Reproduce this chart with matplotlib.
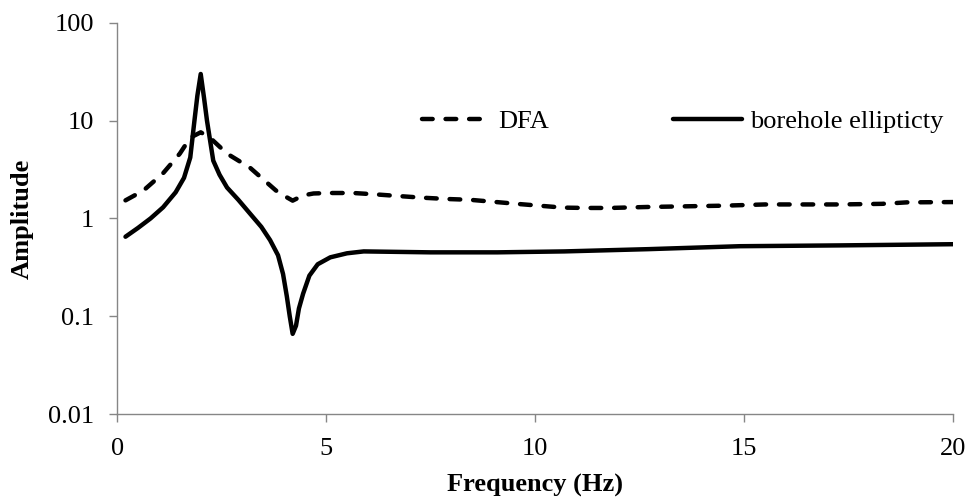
import numpy as np
import matplotlib
matplotlib.use('Agg')
import matplotlib.pyplot as plt
from matplotlib.ticker import FixedLocator, FixedFormatter, NullLocator

plt.rcParams['font.family'] = ['Liberation Serif', 'DejaVu Serif']

## values
freq_ell = [0.2, 0.5, 0.8, 1.1, 1.4, 1.6, 1.75, 1.85, 1.92, 2.0, 2.08, 2.15,
            2.3, 2.45, 2.63, 2.9, 3.18, 3.45, 3.66, 3.85, 3.97, 4.06, 4.13,
            4.2, 4.28, 4.35, 4.45, 4.6, 4.8, 5.1, 5.5, 5.9, 7.5, 9.1, 10.7,
            12.7, 14.9, 17.3, 20]
amp_ell = [0.65, 0.8, 1.0, 1.3, 1.85, 2.6, 4.2, 10, 18, 30, 17, 10,
           3.9, 2.8, 2.07, 1.55, 1.12, 0.82, 0.6, 0.42, 0.27, 0.16, 0.1,
           0.066, 0.08, 0.12, 0.17, 0.26, 0.34, 0.4, 0.44, 0.46, 0.45, 0.45,
           0.46, 0.485, 0.52, 0.53, 0.545]

freq_dfa = [0.2, 0.63, 1.1, 1.5, 1.75, 2.0, 2.22, 2.63, 3.18, 3.5, 3.8, 4.0,
            4.2, 4.45, 4.7, 5.1, 5.65, 6.2, 6.77, 7.3, 7.9, 8.45, 9.0, 9.56,
            10.1, 10.67, 11.2, 11.8, 12.7, 14.5, 15.5, 17.3, 18.3, 18.9, 20]
amp_dfa = [1.53, 1.93, 2.9, 4.6, 6.7, 7.6, 6.7, 4.6, 3.3, 2.5, 1.93, 1.7,
           1.52, 1.72, 1.8, 1.82, 1.82, 1.76, 1.69, 1.63, 1.58, 1.55, 1.48,
           1.41, 1.35, 1.29, 1.28, 1.28, 1.31, 1.35, 1.39, 1.39, 1.41, 1.46,
           1.47]

yticks = [0.01, 0.1, 1, 10, 100]
ytick_labels = ['0.01', '0.1', '1', '10', '100']
xticks = [0, 5, 10, 15, 20]

fig = plt.figure(figsize=(9.68, 4.97), dpi=100)
ax = fig.add_axes([0.121, 0.167, 0.8635, 0.787])

ax.plot(freq_dfa, amp_dfa, color='black', lw=3.2, dashes=(2.4, 2.9),
        dash_capstyle='round', solid_joinstyle='round', label='DFA')
ax.plot(freq_ell, amp_ell, color='black', lw=3.2, solid_capstyle='round',
        solid_joinstyle='round', label='borehole ellipticty')

ax.set_yscale('log')
ax.set_ylim(0.01, 100)
ax.set_xlim(0, 20)
ax.yaxis.set_major_locator(FixedLocator(yticks))
ax.yaxis.set_major_formatter(FixedFormatter(ytick_labels))
ax.yaxis.set_minor_locator(NullLocator())
ax.set_xticks(xticks)

for s in ['top', 'right']:
    ax.spines[s].set_visible(False)
for s in ['left', 'bottom']:
    ax.spines[s].set_color('#868686')
    ax.spines[s].set_linewidth(1.0)
ax.tick_params(axis='both', colors='#868686', labelcolor='black',
               labelsize=19, length=5.5, width=1.0, direction='out')
ax.tick_params(axis='y', pad=11)
ax.tick_params(axis='x', pad=12)

ax.set_xlabel('Frequency (Hz)', fontsize=19, fontweight='bold', labelpad=10)
ax.set_ylabel('Amplitude', fontsize=19, fontweight='bold', labelpad=10)

ax.legend(loc='center right', bbox_to_anchor=(0.988, 0.749), ncol=2,
          frameon=False, fontsize=19, handlelength=2.6, handletextpad=0.3,
          columnspacing=4.7, borderpad=0, borderaxespad=0)

plt.savefig('out.png', dpi=100)
